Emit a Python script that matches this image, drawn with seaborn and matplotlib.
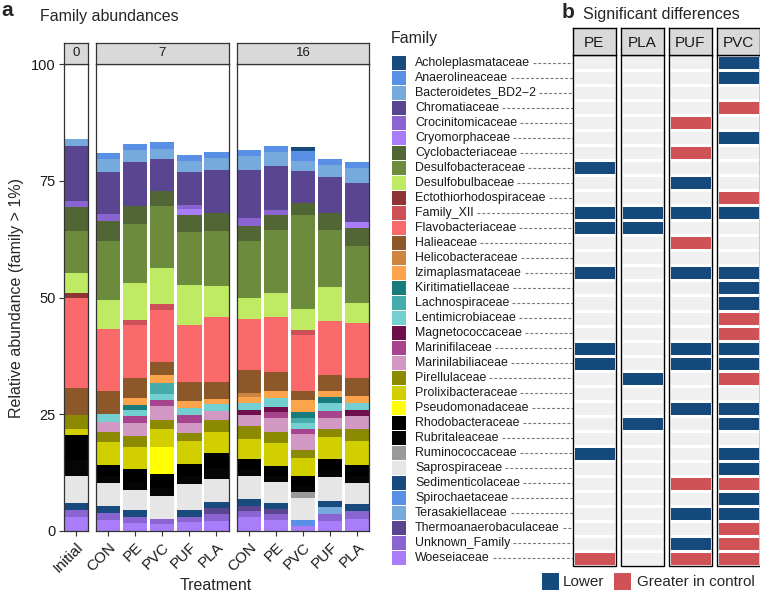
import numpy as np
import pandas as pd
import seaborn as sns
import matplotlib
matplotlib.use("Agg")
import matplotlib.pyplot as plt
from matplotlib.patches import Rectangle
from matplotlib.colors import ListedColormap

sns.set_theme(style="ticks")
plt.rcParams["font.family"] = ["Liberation Sans", "DejaVu Sans"]

families = ["Acholeplasmataceae", "Anaerolineaceae", "Bacteroidetes_BD2\u22122", "Chromatiaceae",
            "Crocinitomicaceae", "Cryomorphaceae", "Cyclobacteriaceae", "Desulfobacteraceae",
            "Desulfobulbaceae", "Ectothiorhodospiraceae", "Family_XII", "Flavobacteriaceae",
            "Halieaceae", "Helicobacteraceae", "Izimaplasmataceae", "Kiritimatiellaceae",
            "Lachnospiraceae", "Lentimicrobiaceae", "Magnetococcaceae", "Marinifilaceae",
            "Marinilabiliaceae", "Pirellulaceae", "Prolixibacteraceae", "Pseudomonadaceae",
            "Rhodobacteraceae", "Rubritaleaceae", "Ruminococcaceae", "Saprospiraceae",
            "Sedimenticolaceae", "Spirochaetaceae", "Terasakiellaceae", "Thermoanaerobaculaceae",
            "Unknown_Family", "Woeseiaceae"]

family_colors = ["#184a7d", "#5a8fe6", "#76aadc", "#5a4590", "#8a64d0", "#a97dfa", "#516634",
                 "#6d8b3c", "#bfea63", "#8d3436", "#cd5058", "#fb6a6a", "#8c5729", "#cd8540",
                 "#fca44c", "#1a7b7b", "#45abab", "#74d0d0", "#6e0f4b", "#a8438d", "#d098c2",
                 "#8c8a00", "#d2cf00", "#ffff00", "#000000", "#050505", "#9a9a9a", "#e6e6e6",
                 "#184a7d", "#5a8fe6", "#76aadc", "#5a4590", "#8a64d0", "#a97dfa"]

days = ["0", "7", "16"]
initial_labels = ["Initial"]
treatment_labels = ["CON", "PE", "PVC", "PUF", "PLA"]

# relative abundance (%) per bar, in family order above
Initial = [0, 0, 1.4, 11.9, 1.3, 0, 5.0, 9.0, 4.3, 1.1, 0, 19.3, 5.7, 0, 0, 0, 0, 0, 0, 0,
           0, 3.1, 1.3, 0, 5.3, 3.5, 0, 5.7, 1.4, 0, 0, 0, 1.6, 3.0]
CON7 = [0, 1.3, 2.7, 9.1, 1.5, 0, 4.3, 12.6, 6.2, 0, 0, 13.2, 5.0, 0, 0, 0, 0, 1.6, 0, 0,
        2.1, 2.3, 4.9, 0, 2.3, 1.5, 0, 5.0, 1.5, 0, 0, 0, 1.4, 2.4]
PE7 = [0, 1.2, 2.5, 9.6, 0, 0, 3.7, 12.7, 7.9, 0, 1.0, 11.5, 4.3, 0, 1.4, 1.1, 0, 1.3, 0, 1.4,
       2.8, 2.5, 4.7, 0, 2.6, 1.8, 0, 4.2, 1.5, 0, 0, 0, 1.4, 1.7]
PVC7 = [0, 1.5, 2.1, 6.8, 0, 0, 3.2, 13.4, 7.6, 0, 1.3, 11.2, 2.9, 0, 1.7, 0, 2.3, 1.2, 0, 1.3,
        3.0, 1.9, 4.0, 5.7, 2.9, 1.9, 0, 4.8, 0, 0, 0, 0, 1.1, 1.5]
PUF7 = [0, 1.3, 2.5, 6.9, 0.9, 1.3, 3.7, 11.4, 8.5, 0, 0, 12.1, 4.2, 0, 1.4, 0, 0, 1.6, 0, 1.6,
        2.3, 1.7, 4.9, 0, 2.6, 1.7, 0, 5.4, 1.5, 0, 0, 0, 1.2, 1.9]
PLA7 = [0, 1.3, 2.4, 9.3, 0, 0, 3.8, 11.9, 6.6, 0, 0, 13.8, 3.8, 0, 1.1, 0, 0, 1.4, 0, 0,
        1.9, 2.7, 4.3, 0, 3.4, 2.3, 0, 4.8, 1.4, 0, 0, 1.3, 1.4, 2.2]
CON16 = [0, 1.3, 3.0, 10.2, 1.6, 0, 3.4, 12.2, 4.4, 0, 0, 11.0, 4.8, 1.0, 1.1, 0, 0, 1.6, 1.1, 0,
         2.3, 2.7, 4.4, 0, 2.2, 1.5, 0, 4.9, 1.5, 0, 0, 1.1, 1.1, 3.1]
PE16 = [0, 1.4, 3.0, 9.3, 1.2, 0, 3.2, 13.5, 5.0, 0, 0, 11.8, 4.1, 0, 1.6, 0, 0, 1.8, 1.1, 1.2,
        3.2, 2.3, 4.8, 0, 2.2, 1.4, 0, 4.4, 1.2, 0, 0, 1.2, 1.2, 2.4]
PVC16 = [1.0, 2.0, 2.3, 6.8, 0, 0, 2.5, 20.1, 4.6, 0, 1.1, 11.9, 1.9, 0, 2.6, 1.2, 1.2, 1.3, 0, 1.1,
         3.3, 1.7, 3.9, 0, 2.1, 1.4, 1.3, 4.6, 0, 1.3, 0, 0, 0, 1.1]
PUF16 = [0, 1.3, 2.5, 7.8, 0, 0, 3.6, 12.2, 7.4, 0, 0, 11.4, 3.5, 0, 1.4, 1.1, 0, 1.8, 0, 1.6,
         2.3, 1.6, 4.8, 0, 2.3, 1.5, 0, 5.1, 1.3, 0, 1.6, 0, 1.4, 2.2]
PLA16 = [0, 1.4, 3.1, 8.5, 0, 1.2, 3.9, 12.1, 4.3, 0, 0, 11.8, 3.9, 0, 1.4, 0, 0, 1.6, 1.3, 0,
         2.8, 2.6, 5.1, 0, 2.3, 1.5, 0, 4.5, 1.6, 0, 0, 0, 1.6, 2.6]

# significance vs control: 0 = none, 1 = lower, 2 = greater in control
comparisons = ["PE", "PLA", "PUF", "PVC"]
sig_PE = [0, 0, 0, 0, 0, 0, 0, 1, 0, 0, 1, 1, 0, 0, 1, 0, 0, 0, 0, 1, 1, 0, 0, 0, 0, 0, 1, 0, 0, 0, 0, 0, 0, 2]
sig_PLA = [0, 0, 0, 0, 0, 0, 0, 0, 0, 0, 1, 1, 0, 0, 0, 0, 0, 0, 0, 0, 0, 1, 0, 0, 1, 0, 0, 0, 0, 0, 0, 0, 0, 0]
sig_PUF = [0, 0, 0, 0, 2, 0, 2, 0, 1, 0, 1, 0, 2, 0, 1, 0, 0, 0, 0, 1, 1, 0, 0, 1, 0, 0, 0, 0, 2, 0, 1, 0, 1, 2]
sig_PVC = [1, 1, 0, 2, 0, 1, 0, 0, 0, 2, 1, 0, 0, 0, 1, 1, 1, 2, 2, 1, 1, 2, 0, 1, 1, 0, 1, 1, 2, 1, 1, 2, 2, 2]
sig_labels = ["Lower", "Greater in control"]

W, H = 760, 595
fig = plt.figure(figsize=(W / 100, H / 100), dpi=100)


def rect(x0, y0, x1, y1):
    return [x0 / W, 1 - y1 / H, (x1 - x0) / W, (y1 - y0) / H]


ov = fig.add_axes([0, 0, 1, 1])
ov.set_xlim(0, W)
ov.set_ylim(H, 0)
ov.axis("off")

pal = dict(zip(families, family_colors))
facets = [(days[0], initial_labels, [Initial]),
          (days[1], treatment_labels, [CON7, PE7, PVC7, PUF7, PLA7]),
          (days[2], treatment_labels, [CON16, PE16, PVC16, PUF16, PLA16])]
panel_x = [(63.5, 88.0), (96.0, 228.6), (236.8, 369.4)]
edge_col = "#333333"

for k, ((lab, names, bars), (x0, x1)) in enumerate(zip(facets, panel_x)):
    ax = fig.add_axes(rect(x0, 64, x1, 531))
    rows = []
    for i, vals in enumerate(bars):
        for fam, v in zip(families, vals):
            rows.append((i + 1, fam, v))
    df = pd.DataFrame(rows, columns=["x", "Family", "value"])
    sns.histplot(data=df, x="x", weights="value", hue="Family", hue_order=families,
                 palette=pal, multiple="stack", discrete=True, shrink=0.9, alpha=1,
                 linewidth=0, edgecolor="none", legend=False, ax=ax)
    ax.set_xlim(0.55, len(names) + 0.45)
    ax.set_ylim(0, 100)
    ax.set_xlabel("")
    ax.set_ylabel("")
    ax.set_xticks(range(1, len(names) + 1))
    ax.set_xticklabels(names, rotation=45, ha="right", rotation_mode="anchor",
                       fontsize=11, color="#1a1a1a")
    ax.tick_params(axis="x", length=3.5, width=0.8, color=edge_col, pad=3)
    if k == 0:
        ax.set_yticks([0, 25, 50, 75, 100])
        ax.set_yticklabels(["0", "25", "50", "75", "100"], fontsize=10.5, color="#1a1a1a")
        ax.tick_params(axis="y", length=3.5, width=0.8, color=edge_col, pad=2)
    else:
        ax.set_yticks([])
    for s in ax.spines.values():
        s.set_color(edge_col)
        s.set_linewidth(0.9)
    sax = fig.add_axes(rect(x0, 43, x1, 64))
    sax.set_facecolor("#d9d9d9")
    sax.set_xticks([])
    sax.set_yticks([])
    for s in sax.spines.values():
        s.set_color(edge_col)
        s.set_linewidth(0.9)
    sax.text(0.5, 0.5, lab, ha="center", va="center", fontsize=9.5, color="#1a1a1a",
             transform=sax.transAxes)

ov.text(1, 10, "a", fontsize=15, fontweight="bold", ha="left", va="center")
ov.text(40.5, 17, "Family abundances", fontsize=11.5, ha="left", va="center")
ov.text(17, 298, "Relative abundance (family > 1%)", fontsize=11.5, rotation=90,
        ha="center", va="center")
ov.text(216, 586, "Treatment", fontsize=11.5, ha="center", va="center")

# heatmap panels
cmap = ListedColormap(["#f0f0f0", "#154a7d", "#cf5256"])
sigs = [sig_PE, sig_PLA, sig_PUF, sig_PVC]
hx = [572.5, 620.5, 668.5, 716.5]
top, bot = 55.0, 566.0
for name, codes, x0 in zip(comparisons, sigs, hx):
    ax = fig.add_axes(rect(x0, top, x0 + 43, bot))
    sns.heatmap(np.array(codes).reshape(-1, 1), ax=ax, cmap=cmap, vmin=-0.5, vmax=2.5,
                cbar=False, linewidths=0.9, linecolor="white",
                xticklabels=False, yticklabels=False)
    ax.add_patch(Rectangle((0, 0), 1, 1, transform=ax.transAxes, fill=False,
                           ec="black", lw=1.0, clip_on=False, zorder=5))
    sax = fig.add_axes(rect(x0, 28.3, x0 + 43, top))
    sax.set_facecolor("#d9d9d9")
    sax.set_xticks([])
    sax.set_yticks([])
    for s in sax.spines.values():
        s.set_color("black")
        s.set_linewidth(1.0)
    sax.text(0.5, 0.45, name, ha="center", va="center", fontsize=11, color="#1a1a1a",
             transform=sax.transAxes)

ov.text(562, 13, "b", fontsize=15, fontweight="bold", ha="left", va="center")
ov.text(583, 15, "Significant differences", fontsize=11.5, ha="left", va="center")

# family legend with leader lines
ov.text(391, 39, "Family", fontsize=11.5, ha="left", va="center")
step = (bot - top) / len(families)
texts = []
for i, (fam, col) in enumerate(zip(families, family_colors)):
    yc = top + step * (i + 0.5)
    ov.add_patch(Rectangle((391.5, yc - 7), 14, 14, fc=col, ec="none"))
    t = ov.text(415, yc, fam, fontsize=8.9, ha="left", va="center", color="#1a1a1a")
    texts.append((t, yc))

fig.canvas.draw()
inv = ov.transData.inverted()
for t, yc in texts:
    bb = t.get_window_extent()
    xe = inv.transform((bb.x1, bb.y0))[0]
    if xe + 3 < hx[0]:
        ov.plot([xe + 3, hx[0]], [yc, yc], color="#777777", lw=0.8,
                ls=(0, (2.6, 1.8)))

# significance legend
ov.add_patch(Rectangle((542, 573), 17, 17, fc="#154a7d", ec="none"))
ov.text(563, 582, sig_labels[0], fontsize=11, ha="left", va="center")
ov.add_patch(Rectangle((614, 573), 17, 17, fc="#cf5256", ec="none"))
ov.text(637, 582, sig_labels[1], fontsize=11, ha="left", va="center")

fig.savefig("out.png", dpi=100)
